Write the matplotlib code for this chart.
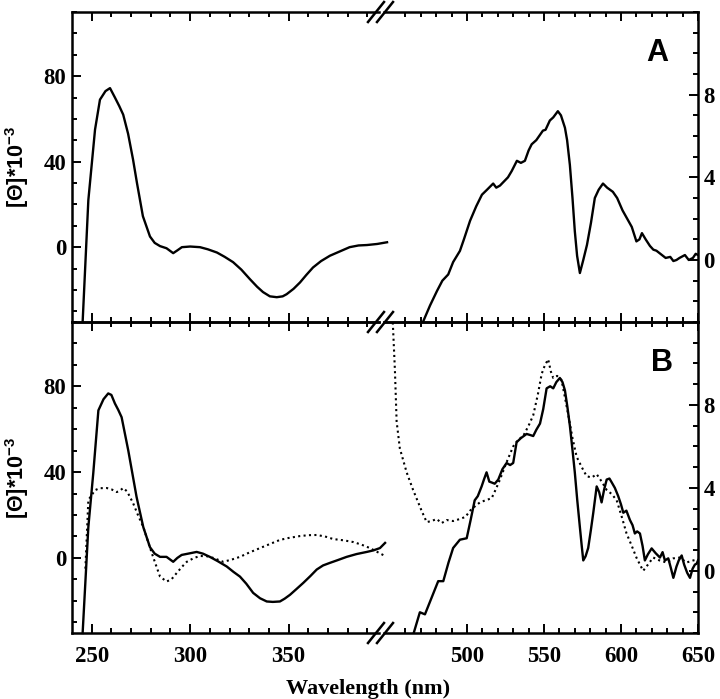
import numpy as np
import matplotlib
matplotlib.use('Agg')
import matplotlib.pyplot as plt
from matplotlib.lines import Line2D
from matplotlib.ticker import MultipleLocator, FixedLocator

plt.rcParams['font.family'] = 'Liberation Serif'
plt.rcParams['font.weight'] = 'bold'
plt.rcParams['mathtext.fontset'] = 'custom'
plt.rcParams['mathtext.bf'] = 'Liberation Sans:bold'
plt.rcParams['mathtext.rm'] = 'Liberation Sans:bold'
plt.rcParams['mathtext.default'] = 'bf'

# panel A, UV region (left scale)
wlA_uv = [245.4, 248.3, 251.7, 254.2, 257.0, 259.3, 261.8, 264.0, 266.0, 268.5,
          271.0, 273.0, 276.0, 279.6, 282.0, 284.7, 288.0, 291.4, 293.5, 295.8,
          300.0, 305.0, 309.0, 313.6, 317.5, 321.8, 326.0, 330.4, 334.0, 337.0,
          340.5, 344.0, 347.0, 349.0, 352.5, 355.8, 359.0, 362.4, 366.5, 371.0,
          376.0, 381.0, 385.5, 389.8, 395.0, 400.0]
cdA_uv = [-35, 22, 55, 69, 73, 74.4, 70, 66, 62, 53,
          41, 30, 14.5, 5, 2, 0.5, -0.5, -2.8, -1.5, 0,
          0.3, 0, -1, -2.5, -4.5, -7, -10.5, -15, -18.5, -21,
          -23, -23.4, -23, -22, -19.5, -16.5, -13, -9.5, -6.5, -4,
          -2, 0, 0.8, 1, 1.5, 2.3]

# panel A, visible region (right scale)
wlA_vis = [471.4, 476.0, 480.5, 484.0, 487.8, 491.0, 495.4, 498.0, 502.0, 506.0,
           509.7, 513.0, 517.0, 519.0, 521.4, 524.0, 526.6, 529.0, 532.4, 535.0,
           537.6, 540.0, 542.0, 545.0, 549.3, 551.0, 553.8, 556.0, 559.0, 561.0,
           563.6, 565.0, 566.8, 568.5, 570.0, 571.5, 573.3, 575.5, 577.9, 580.5,
           583.0, 585.5, 588.3, 591.0, 594.7, 597.5, 601.0, 604.0, 607.0, 610.0,
           612.0, 613.6, 616.0, 618.8, 621.0, 623.0, 626.6, 629.0, 632.0, 634.0,
           636.0, 638.0, 641.5, 644.0, 646.7, 648.5, 650.0]
cdA_vis = [-3.0, -2.2, -1.5, -1.0, -0.7, -0.1, 0.44, 1.0, 1.9, 2.6,
           3.16, 3.4, 3.7, 3.5, 3.6, 3.8, 4.0, 4.3, 4.8, 4.7,
           4.8, 5.3, 5.6, 5.8, 6.26, 6.3, 6.75, 6.9, 7.2, 7.0,
           6.4, 5.8, 4.6, 3.0, 1.4, 0.2, -0.63, 0.0, 0.73, 1.8,
           3.0, 3.4, 3.7, 3.5, 3.3, 3.0, 2.4, 2.0, 1.6, 0.9,
           1.0, 1.3, 1.0, 0.68, 0.5, 0.45, 0.24, 0.1, 0.15, -0.05,
           0.0, 0.1, 0.24, 0.0, 0.1, 0.3, 0.24]

# panel B, UV region, solid
wlB_uv = [245.4, 248.3, 250.8, 253.4, 256.0, 258.4, 260.0, 261.8, 263.5, 265.2,
          268.6, 272.8, 276.2, 279.6, 282.0, 284.7, 288.0, 291.4, 293.5, 295.7,
          299.0, 303.3, 306.5, 310.0, 314.0, 318.6, 322.0, 325.3, 328.5, 332.0,
          335.5, 338.9, 342.0, 345.6, 348.0, 350.7, 354.0, 357.5, 361.0, 364.3,
          367.5, 371.0, 375.0, 379.5, 384.5, 389.7, 393.0, 396.4, 399.0]
cdB_uv = [-35, 14.4, 39.5, 68.8, 74, 76.7, 76, 72, 69, 65.6,
          50, 28.4, 14.4, 5, 2, 0.5, 0.5, -1.8, 0, 1.4,
          2, 2.8, 2, 0.5, -1.5, -4, -6.5, -8.7, -12, -16.3,
          -18.8, -20.3, -20.5, -20.3, -19, -17.2, -14.5, -11.6, -8.5, -5.4,
          -3.5, -2.3, -1, 0.5, 1.8, 2.8, 3.5, 4.6, 7]

# panel B, UV region, dotted
wlB_uv_dot = [246.8, 248.3, 251.7, 254.0, 257.6, 260.0, 262.7, 264.5, 266.0, 268.0,
              271.0, 273.5, 276.2, 280.5, 282.5, 284.7, 288.0, 290.5, 293.2, 296.0,
              298.3, 302.0, 305.0, 308.5, 311.8, 316.8, 321.0, 325.3, 330.0, 335.5,
              340.0, 345.6, 350.0, 355.8, 360.0, 364.3, 368.5, 372.7, 378.0, 382.9,
              387.0, 391.3, 395.0, 399.0]
cdB_uv_dot = [-5, 27, 31.6, 32.5, 32.6, 32, 30.7, 31.5, 32.6, 31,
              25.6, 20, 14.4, 2.3, -3, -8.7, -11, -10, -7, -4,
              -1.8, 0, 0.9, 0.8, 0, -1.8, -0.8, 0.5, 2.5, 4.6,
              6.3, 8.4, 9.3, 10.2, 10.6, 10.7, 10, 8.8, 8.2, 7.4,
              6.2, 4.6, 2.8, 0.9]

# panel B, visible region, solid
wlB_vis = [465.0, 469.4, 472.7, 477.0, 481.3, 484.6, 488.0, 491.0, 495.4, 499.8,
           502.5, 505.0, 507.0, 509.5, 511.0, 512.7, 514.5, 516.0, 518.0, 520.3,
           523.0, 525.7, 528.0, 530.0, 532.2, 535.0, 538.7, 541.0, 543.0, 545.0,
           547.4, 549.5, 551.7, 554.0, 556.0, 558.0, 560.3, 562.0, 563.6, 565.2,
           566.8, 568.4, 570.0, 571.6, 573.3, 574.5, 575.5, 577.0, 578.7, 580.5,
           582.0, 584.2, 585.8, 587.4, 589.0, 590.7, 592.5, 594.0, 596.0, 598.2,
           600.0, 601.5, 603.5, 605.8, 607.5, 609.0, 610.5, 612.3, 614.0, 615.5,
           617.5, 619.9, 622.5, 625.3, 627.0, 628.5, 630.7, 632.5, 634.0, 636.0,
           637.5, 639.4, 641.0, 643.0, 644.8, 646.5, 648.0, 649.1, 650.0]
cdB_vis = [-3.1, -2, -2.1, -1.3, -0.5, -0.5, 0.4, 1.1, 1.5, 1.57,
           2.5, 3.4, 3.6, 4.07, 4.4, 4.75, 4.3, 4.26, 4.2, 4.4,
           4.9, 5.2, 5.1, 5.2, 6.2, 6.4, 6.6, 6.55, 6.5, 6.8,
           7.1, 7.8, 8.8, 8.9, 8.8, 9.1, 9.3, 9.1, 8.7, 7.9,
           7, 5.9, 4.75, 3.4, 2.1, 1.2, 0.5, 0.7, 1.1, 2.0,
           2.8, 4.07, 3.8, 3.3, 3.9, 4.4, 4.45, 4.26, 4.0, 3.6,
           3.2, 2.8, 2.9, 2.45, 2.2, 1.8, 1.9, 1.8, 1.2, 0.5,
           0.8, 1.08, 0.85, 0.64, 0.9, 0.5, 0.6, 0.1, -0.34, 0.2,
           0.5, 0.74, 0.3, -0.1, -0.34, 0.1, 0.3, 0.34, 0.5]

# panel B, visible region, dotted
wlB_vis_dot = [451.5, 453.2, 454.3, 456.4, 460.8, 465.0, 470.5, 473.8, 477.0, 480.3,
               483.5, 486.8, 491.0, 495.4, 499.0, 502.0, 505.0, 508.4, 512.0, 516.0,
               518.5, 521.4, 525.5, 530.0, 533.0, 536.5, 540.0, 543.0, 546.0, 548.5,
               550.5, 552.7, 554.5, 556.0, 558.5, 561.4, 563.5, 565.8, 568.5, 571.2,
               574.5, 577.7, 581.0, 584.2, 587.5, 590.7, 594.0, 597.2, 600.5, 603.6,
               607.0, 610.0, 612.3, 614.4, 617.5, 620.9, 625.0, 629.6, 634.0, 638.3,
               642.5, 646.9, 650.0]
cdB_vis_dot = [12.5, 9.66, 7.2, 5.9, 4.75, 3.9, 2.9, 2.35, 2.4, 2.5,
               2.3, 2.45, 2.4, 2.5, 2.6, 2.9, 3.1, 3.3, 3.4, 3.5,
               3.9, 4.4, 5.2, 6.0, 6.3, 6.5, 7.0, 7.5, 8.5, 9.5,
               9.9, 10.2, 9.6, 9.3, 9.4, 9.2, 8.4, 7.5, 6.4, 5.5,
               5.0, 4.56, 4.5, 4.66, 4.3, 3.9, 3.7, 3.4, 2.6, 1.8,
               1.2, 0.64, 0.3, 0, 0.3, 0.64, 0.5, 0.4, 0.6, 0.64,
               0.4, 0.5, 0.55]

W, H = 720, 699
fig = plt.figure(figsize=(W / 100, H / 100), dpi=100)

def fx(px):
    return px / W

def fy(py):
    return 1 - py / H

xL0, xL1, xR0, xR1 = 72, 379, 384, 698
left_nm_per_px = 1 / 1.969
right_nm_per_px = 1 / 1.54
xlimL = (240, 240 + (xL1 - xL0) * left_nm_per_px)
xlimR = (650 - (xR1 - xR0) * right_nm_per_px, 650)

panels = [(12, 322), (322, 633)]
lw_spine = 1.8
tick_kw = dict(direction='in', width=1.4, top=True, bottom=True)

axes = []
for i, (ptop, pbot) in enumerate(panels):
    axL = fig.add_axes([fx(xL0), fy(pbot), fx(xL1 - xL0), (pbot - ptop) / H])
    axR = fig.add_axes([fx(xR0), fy(pbot), fx(xR1 - xR0), (pbot - ptop) / H])
    axL.set_xlim(*xlimL)
    axL.set_ylim(-35, 110)
    axR.set_xlim(*xlimR)
    axR.set_ylim(-3, 12)
    axL.spines['right'].set_visible(False)
    axR.spines['left'].set_visible(False)
    for ax in (axL, axR):
        for s in ax.spines.values():
            s.set_linewidth(lw_spine)
        ax.set_facecolor('none')
    axL.xaxis.set_major_locator(FixedLocator([250, 300, 350]))
    axL.xaxis.set_minor_locator(FixedLocator(np.arange(250, 395, 10)))
    axR.xaxis.set_major_locator(FixedLocator([500, 550, 600, 650]))
    axR.xaxis.set_minor_locator(FixedLocator(np.arange(460, 650, 10)))
    axL.yaxis.set_major_locator(FixedLocator([0, 40, 80]))
    axL.yaxis.set_minor_locator(MultipleLocator(10))
    axR.yaxis.set_major_locator(FixedLocator([0, 4, 8]))
    axR.yaxis.set_minor_locator(MultipleLocator(1))
    axL.tick_params(which='both', left=True, right=False, **tick_kw)
    axR.tick_params(which='both', left=False, right=True, labelleft=False,
                    labelright=True, **tick_kw)
    for ax in (axL, axR):
        ax.tick_params(which='major', length=6.5, labelsize=16.5, pad=4)
        ax.tick_params(which='minor', length=3.5)
        ax.tick_params(axis='x', which='major', pad=9)
        if i == 0:
            ax.tick_params(axis='x', labelbottom=False)
    axes.append((axL, axR))

solid = dict(color='black', lw=1.7)
dotted = dict(color='black', lw=1.5, linestyle=(0, (1, 1.6)))

(aL, aR), (bL, bR) = axes
aL.plot(wlA_uv, cdA_uv, clip_on=False, **solid)
aR.plot(wlA_vis, cdA_vis, **solid)
bL.plot(wlB_uv_dot, cdB_uv_dot, clip_on=False, **dotted)
bL.plot(wlB_uv, cdB_uv, clip_on=False, **solid)
bR.plot(wlB_vis_dot, cdB_vis_dot, **dotted)
bR.plot(wlB_vis, cdB_vis, **solid)

# broken-axis marks
for py in (12, 322, 633):
    for cx in (376, 385):
        fig.add_artist(Line2D([fx(cx - 8), fx(cx + 8)], [fy(py + 10), fy(py - 10)],
                              color='black', lw=1.8))

fig.text(fx(657), fy(53), 'A', fontsize=22, fontweight='bold', family='Liberation Sans',
         ha='center', va='center')
fig.text(fx(662), fy(363), 'B', fontsize=22, fontweight='bold', family='Liberation Sans',
         ha='center', va='center')

ylab = '[Θ]*10$^{-3}$'
for ptop, pbot in panels:
    fig.text(fx(17), fy((ptop + pbot) / 2), ylab, rotation=90, fontsize=15.5,
             fontweight='bold', family='Liberation Sans', ha='center', va='center')

fig.text(fx(368), fy(689), 'Wavelength (nm)', fontsize=16, fontweight='bold',
         ha='center', va='center')

fig.savefig('out.png', dpi=100)
